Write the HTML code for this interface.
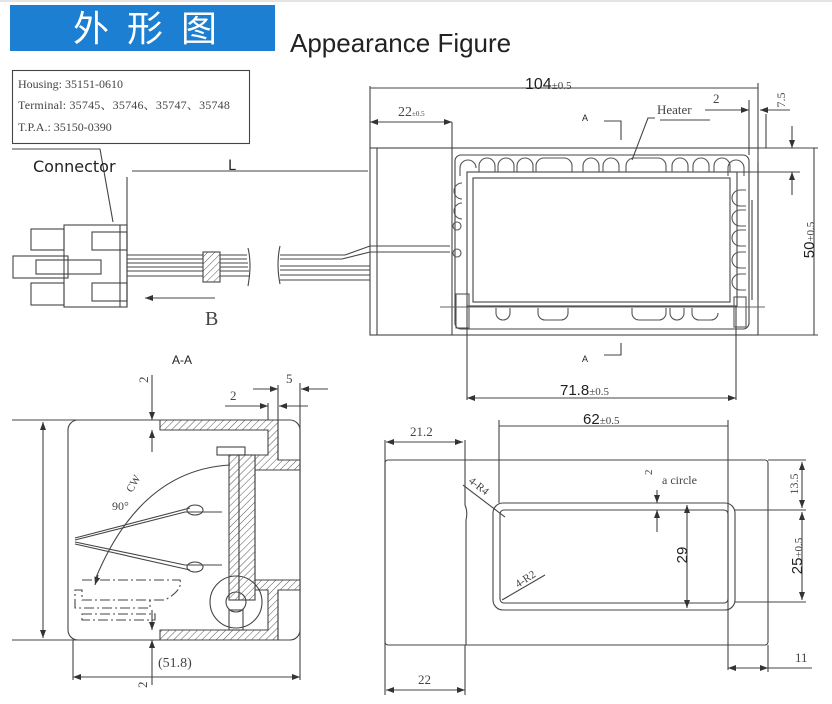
<!DOCTYPE html>
<html><head><meta charset="utf-8"><style>
html,body{margin:0;padding:0;background:#fff;width:832px;height:704px;overflow:hidden}
svg{display:block}
.s{font-family:"Liberation Serif","Noto Serif CJK SC",serif;fill:#444}
.a{font-family:"Liberation Sans",sans-serif;fill:#222}
</style></head><body>
<svg width="832" height="704" viewBox="0 0 832 704" xmlns="http://www.w3.org/2000/svg">
<defs>
<pattern id="h" width="5" height="5" patternUnits="userSpaceOnUse" patternTransform="rotate(45)">
<rect width="5" height="5" fill="#fff"/><line x1="0" y1="0" x2="0" y2="5" stroke="#555" stroke-width="1"/></pattern>
<marker id="ar" markerWidth="8" markerHeight="6" refX="8" refY="3" orient="auto-start-reverse" markerUnits="userSpaceOnUse"><path d="M0,0 L8,3 L0,6z" fill="#333"/></marker>
</defs>
<line x1="0" y1="1" x2="832" y2="1" stroke="#e4e4e4" stroke-width="2"/>
<rect x="10" y="5" width="265" height="46" fill="#1c7fd2"/>
<text x="73" y="41" font-size="36" fill="#fff" font-family="'Noto Sans CJK SC',sans-serif" letter-spacing="18">外形图</text>
<text x="290" y="52" font-size="26" class="a" font-family="'Liberation Sans',sans-serif">Appearance Figure</text>

<g fill="none" stroke="#444" stroke-width="1.1">
<rect x="12.5" y="70.5" width="237" height="73"/>
<polyline points="12,149 100,149 113,222"/>
<line x1="132" y1="171" x2="368" y2="171"/>
<line x1="127" y1="177" x2="127" y2="307"/>
<rect x="31" y="229" width="33" height="21"/>
<rect x="13" y="256" width="55" height="22"/>
<rect x="31" y="283" width="33" height="22"/>
<rect x="64" y="225" width="63" height="82"/>
<rect x="92" y="232" width="35" height="18"/>
<rect x="92" y="283" width="35" height="18"/>
<rect x="36" y="260" width="65" height="14"/>
<line x1="120" y1="225" x2="120" y2="307"/>
<g stroke="#444">
<line x1="127" y1="255" x2="247" y2="255"/><line x1="127" y1="259" x2="247" y2="259"/>
<line x1="127" y1="263" x2="248" y2="263"/><line x1="127" y1="267" x2="248" y2="267"/>
<line x1="127" y1="271" x2="249" y2="271"/><line x1="127" y1="276" x2="249" y2="276"/>
<line x1="280" y1="255" x2="345" y2="255"/><line x1="280" y1="259" x2="342" y2="259"/>
<line x1="280" y1="266" x2="370" y2="266"/><line x1="280" y1="270" x2="370" y2="270"/>
<line x1="280" y1="275" x2="370" y2="275"/><line x1="280" y1="280" x2="370" y2="280"/>
<polyline points="345,255 370,246 450,246"/><polyline points="342,259 370,252 450,252"/>
</g>
<path d="M248,248 q4,16 0,38 M280,246 q-4,18 0,38"/>
<rect x="203" y="252" width="17" height="30" fill="url(#h)"/>
<line x1="145" y1="298" x2="215" y2="298" marker-start="url(#ar)"/>

<rect x="370" y="148" width="388" height="187"/>
<line x1="377" y1="148" x2="377" y2="335"/>
<line x1="452" y1="122" x2="452" y2="335"/>
<rect x="455" y="155" width="294" height="174" rx="6"/>
<rect x="467" y="172" width="270" height="134"/>
<rect x="473" y="178" width="257" height="124" stroke="#444"/>
<line x1="758" y1="162" x2="758" y2="300" />
<line x1="752" y1="300" x2="752" y2="200"/>
<g stroke="#555">
<path d="M460,176 v-8 a8,8 0 0 1 16,0 M479,172 v-6 a8,8 0 0 1 16,0 v6 M498,172 v-6 a8,8 0 0 1 16,0 v6 M517,172 v-6 a8,8 0 0 1 16,0 v6 M536,172 v-6 a8,8 0 0 1 8,-8 h20 a8,8 0 0 1 8,8 v6 M583,172 v-6 a8,8 0 0 1 16,0 v6 M603,172 v-6 a8,8 0 0 1 16,0 v6 M626,172 v-6 a8,8 0 0 1 8,-8 h24 a8,8 0 0 1 8,8 v6 M672,172 v-6 a8,8 0 0 1 16,0 v6 M693,172 v-6 a8,8 0 0 1 16,0 v6 M714,172 v-6 a8,8 0 0 1 16,0 v6 M728,176 v-8 a8,8 0 0 1 16,0 v8"/>
<path d="M746,190 h-6 a8,8 0 0 0 0,16 h6 M746,210 h-6 a8,8 0 0 0 0,16 h6 M746,230 h-6 a8,8 0 0 0 0,16 h6 M746,252 h-6 a8,8 0 0 0 0,16 h6 M746,274 h-6 a8,8 0 0 0 0,16 h6"/>
<path d="M462,183 a8,8 0 0 0 0,16 M462,203 a8,8 0 0 0 0,16"/>
<path d="M496,308 v5 a7,7 0 0 0 14,0 v-5 M538,308 v5 a7,7 0 0 0 7,7 h16 a7,7 0 0 0 7,-7 v-5 M632,308 v5 a7,7 0 0 0 7,7 h20 a7,7 0 0 0 7,-7 v-5 M670,308 v5 a7,7 0 0 0 14,0 v-5 M692,308 v5 a7,7 0 0 0 7,7 h12 a7,7 0 0 0 7,-7"/>
<circle cx="457" cy="226" r="4"/><circle cx="457" cy="253" r="4"/>
<rect x="456" y="294" width="13" height="34"/><rect x="734" y="297" width="12" height="30"/>
</g>
<line x1="440" y1="307" x2="765" y2="307" stroke="#666"/>
<line x1="370" y1="86" x2="370" y2="148"/><line x1="758" y1="83" x2="758" y2="148"/>
<line x1="370" y1="88" x2="758" y2="88"/>
<line x1="370" y1="122" x2="452" y2="122" marker-start="url(#ar)" marker-end="url(#ar)"/>
<line x1="766" y1="114" x2="766" y2="148"/>
<line x1="705" y1="110" x2="749" y2="110" marker-end="url(#ar)"/>
<line x1="790" y1="110" x2="760" y2="110" marker-end="url(#ar)"/>
<line x1="749" y1="100" x2="749" y2="155"/>
<line x1="792" y1="126" x2="792" y2="148" marker-end="url(#ar)"/>
<line x1="792" y1="195" x2="792" y2="172" marker-end="url(#ar)"/>
<line x1="737" y1="172" x2="800" y2="172"/>
<line x1="758" y1="148" x2="818" y2="148"/>
<line x1="758" y1="335" x2="818" y2="335"/>
<line x1="814" y1="148" x2="814" y2="335"/>
<polyline points="655,118 648,118 632,160"/><line x1="660" y1="120" x2="710" y2="120"/>
<polyline points="604,121 621,121 621,140"/><polyline points="604,355 621,355 621,343"/>
<line x1="467" y1="306" x2="467" y2="400"/><line x1="736" y1="306" x2="736" y2="400"/>
<line x1="467" y1="398" x2="736" y2="398" marker-start="url(#ar)" marker-end="url(#ar)"/>

<rect x="68" y="420" width="232" height="220" rx="10"/>
<line x1="12" y1="420" x2="160" y2="420"/><line x1="12" y1="640" x2="160" y2="640"/>
<line x1="43" y1="422" x2="43" y2="638" marker-start="url(#ar)" marker-end="url(#ar)"/>
<path d="M160,420 H278 V460 H300 V470 H255 V455 H268 V430 H160 Z" fill="url(#h)"/>
<path d="M160,630 H268 V590 H255 V580 H300 V590 H278 V640 H160 Z" fill="url(#h)"/>
<line x1="278" y1="420" x2="278" y2="460"/><line x1="278" y1="590" x2="278" y2="640"/>
<rect x="229" y="455" width="10" height="145" fill="url(#h)"/>
<rect x="239" y="455" width="16" height="145" fill="url(#h)"/>
<rect x="217" y="447" width="28" height="8"/>
<line x1="255" y1="470" x2="255" y2="580"/>
<circle cx="236" cy="602" r="26"/><circle cx="236" cy="602" r="10"/>
<rect x="229" y="610" width="14" height="20"/>
<path d="M75,540 L185,512 L222,512 M75,542 L185,565 L222,565 M75,538 L190,508 M75,544 L190,570"/>
<ellipse cx="195" cy="510" rx="8" ry="5"/><ellipse cx="195" cy="567" rx="8" ry="5"/>
<path d="M95,580 Q140,470 230,465" />
<line x1="98" y1="575" x2="95" y2="585" marker-end="url(#ar)"/>
<path d="M82,580 H180 Q183,590 165,600 H82 V590 H75 V608 H150 V600 M82,614 H155 V620 H82 Z" stroke-dasharray="10,3,2,3"/>
<line x1="152" y1="375" x2="152" y2="420" marker-end="url(#ar)"/>
<line x1="152" y1="452" x2="152" y2="430" marker-end="url(#ar)"/>
<line x1="152" y1="610" x2="152" y2="630" marker-end="url(#ar)"/>
<line x1="152" y1="685" x2="152" y2="640" marker-end="url(#ar)"/>
<line x1="225" y1="406" x2="268" y2="406" marker-end="url(#ar)"/>
<line x1="308" y1="406" x2="279" y2="406" marker-end="url(#ar)"/>
<line x1="253" y1="389" x2="278" y2="389" marker-end="url(#ar)"/>
<line x1="328" y1="389" x2="301" y2="389" marker-end="url(#ar)"/>
<line x1="268" y1="403" x2="268" y2="420"/><line x1="278" y1="385" x2="278" y2="420"/><line x1="300" y1="383" x2="300" y2="680"/>
<line x1="73" y1="640" x2="73" y2="680"/>
<line x1="73" y1="677" x2="300" y2="677" marker-start="url(#ar)" marker-end="url(#ar)"/>

<rect x="385" y="460" width="383" height="185" rx="3"/>
<path d="M465,440 V505 Q468,512 466,520 V645"/>
<line x1="465" y1="645" x2="465" y2="695"/><line x1="385" y1="440" x2="385" y2="695"/>
<rect x="493" y="503" width="242" height="107" rx="10"/>
<rect x="500" y="510" width="228" height="93" rx="4"/>
<line x1="499" y1="420" x2="499" y2="503"/><line x1="728" y1="420" x2="728" y2="670"/>
<line x1="499" y1="426" x2="728" y2="426"/>
<line x1="386" y1="442" x2="463" y2="442" marker-start="url(#ar)" marker-end="url(#ar)"/>
<line x1="386" y1="690" x2="465" y2="690" marker-start="url(#ar)" marker-end="url(#ar)"/>
<line x1="768" y1="645" x2="768" y2="672"/>
<line x1="728" y1="668" x2="768" y2="668" marker-start="url(#ar)" marker-end="url(#ar)"/>
<line x1="768" y1="668" x2="812" y2="668"/>
<line x1="768" y1="460" x2="806" y2="460"/><line x1="735" y1="510" x2="806" y2="510"/><line x1="735" y1="602" x2="806" y2="602"/>
<line x1="802" y1="462" x2="802" y2="508" marker-start="url(#ar)" marker-end="url(#ar)"/>
<line x1="802" y1="512" x2="802" y2="600" marker-start="url(#ar)" marker-end="url(#ar)"/>
<line x1="687" y1="505" x2="687" y2="608" marker-start="url(#ar)" marker-end="url(#ar)"/>
<line x1="657" y1="490" x2="657" y2="503" marker-end="url(#ar)"/>
<line x1="657" y1="532" x2="657" y2="510" marker-end="url(#ar)"/>
<line x1="640" y1="503" x2="700" y2="503"/>
<line x1="463" y1="485" x2="505" y2="517"/><line x1="502" y1="600" x2="545" y2="575"/>
</g>

<g class="s" font-size="12">
<text x="18" y="88">Housing:  35151-0610</text>
<text x="18" y="109" letter-spacing="0.2">Terminal: 35745、35746、35747、35748</text>
<text x="18" y="131">T.P.A.: 35150-0390</text>
</g>
<text x="33" y="172" font-size="16" font-family="'DejaVu Sans',sans-serif" fill="#222">Connector</text>
<text x="228" y="170" font-size="14" font-family="'DejaVu Sans',sans-serif" fill="#222">L</text>
<text x="205" y="325" font-size="20" class="s" fill="#222">B</text>
<text x="525" y="89" font-size="16" class="a">104<tspan font-size="11" class="s">±0.5</tspan></text>
<text x="398" y="116" font-size="14" class="s">22<tspan font-size="7">±0.5</tspan></text>
<text x="657" y="114" font-size="13" class="s">Heater</text>
<text x="713" y="103" font-size="13" class="s">2</text>
<text transform="translate(785,100) rotate(-90)" font-size="12" class="s" text-anchor="middle">7.5</text>
<text transform="translate(814,240) rotate(-90)" font-size="15" class="a" text-anchor="middle">50<tspan font-size="11" class="s">±0.5</tspan></text>
<text x="582" y="121" font-size="9" class="a">A</text>
<text x="582" y="362" font-size="9" class="a">A</text>
<text x="560" y="395" font-size="15" class="a">71.8<tspan font-size="11" class="s">±0.5</tspan></text>
<text x="172" y="364" font-size="12" class="a">A-A</text>
<text transform="translate(148,383) rotate(-90)" font-size="13" class="s">2</text>
<text x="230" y="400" font-size="13" class="s">2</text>
<text x="286" y="383" font-size="13" class="s">5</text>
<text transform="translate(132,493) rotate(-60)" font-size="11" class="s">CW</text>
<text x="112" y="510" font-size="12" class="s">90°</text>
<text x="158" y="667" font-size="14" class="s">(51.8)</text>
<text transform="translate(147,688) rotate(-90)" font-size="13" class="s">2</text>
<text x="583" y="424" font-size="15" class="a">62<tspan font-size="11" class="s">±0.5</tspan></text>
<text x="410" y="436" font-size="13" class="s">21.2</text>
<text x="418" y="684" font-size="13" class="s">22</text>
<text x="795" y="662" font-size="13" class="s">11</text>
<text x="662" y="484" font-size="12" class="s">a circle</text>
<text transform="translate(652,475) rotate(-90)" font-size="11" class="s">2</text>
<text transform="translate(687,555) rotate(-90)" font-size="15" class="a" text-anchor="middle">29</text>
<text transform="translate(798,484) rotate(-90)" font-size="12" class="s" text-anchor="middle">13.5</text>
<text transform="translate(802,556) rotate(-90)" font-size="15" class="a" text-anchor="middle">25<tspan font-size="11" class="s">±0.5</tspan></text>
<text transform="translate(468,482) rotate(38)" font-size="11" class="s">4-R4</text>
<text transform="translate(518,588) rotate(-33)" font-size="11" class="s">4-R2</text>
</svg>
</body></html>
